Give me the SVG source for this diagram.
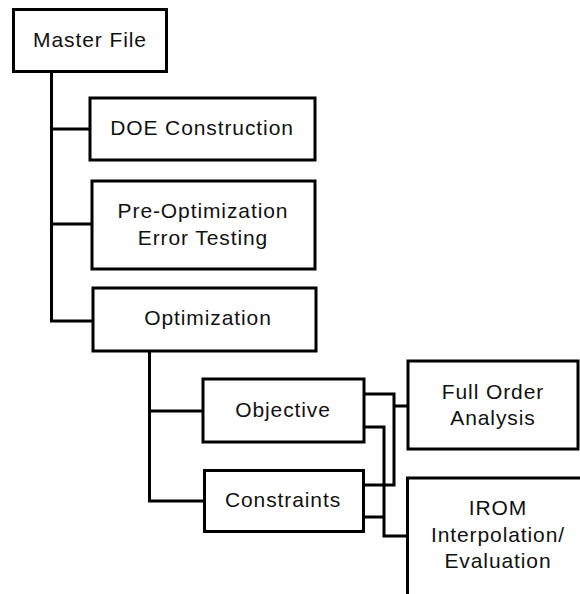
<svg xmlns="http://www.w3.org/2000/svg" width="580" height="594" viewBox="0 0 580 594">
  <style>
    .box { fill: #ffffff; stroke: #000000; stroke-width: 3; }
    .wire { fill: none; stroke: #000000; stroke-width: 3; stroke-linecap: square; }
    .label { font-family: "Liberation Sans", Arial, sans-serif; font-size: 21px; letter-spacing: 0.9px; fill: #111111; text-anchor: middle; }
  </style>
  <rect width="580" height="594" fill="#ffffff"/>

  <!-- connectors -->
  <g id="connectors">
    <path class="wire" d="M51.5,72 V321 H92 M51.5,129 H90 M51.5,224 H92"/>
    <path class="wire" d="M149.5,352 V501 H204 M149.5,411 H203"/>
    <path class="wire" d="M364,394 H394 V485 H364 M394,406 H408"/>
    <path class="wire" d="M364,427 H384 V536 H407 M364,517 H384"/>
  </g>

  <g id="master-file">
    <rect class="box" x="13.5" y="9.5" width="153" height="62"/>
    <text class="label" x="90" y="47">Master File</text>
  </g>

  <g id="doe-construction">
    <rect class="box" x="90" y="98" width="225" height="62"/>
    <text class="label" x="202" y="135">DOE Construction</text>
  </g>

  <g id="pre-optimization">
    <rect class="box" x="92" y="181" width="223" height="88"/>
    <text class="label" x="203" y="218">Pre-Optimization</text>
    <text class="label" x="203" y="245">Error Testing</text>
  </g>

  <g id="optimization">
    <rect class="box" x="93" y="288" width="223" height="63"/>
    <text class="label" x="208" y="325">Optimization</text>
  </g>

  <g id="objective">
    <rect class="box" x="203" y="379" width="161" height="63"/>
    <text class="label" x="283" y="417">Objective</text>
  </g>

  <g id="constraints">
    <rect class="box" x="204.5" y="470.5" width="159" height="61"/>
    <text class="label" x="283" y="507">Constraints</text>
  </g>

  <g id="full-order-analysis">
    <rect class="box" x="408" y="361" width="170" height="88"/>
    <text class="label" x="493" y="399">Full Order</text>
    <text class="label" x="493" y="425">Analysis</text>
  </g>

  <g id="irom">
    <rect class="box" x="407.5" y="478" width="185" height="130"/>
    <text class="label" x="498" y="515">IROM</text>
    <text class="label" x="498" y="542">Interpolation/</text>
    <text class="label" x="498" y="568">Evaluation</text>
  </g>
</svg>
